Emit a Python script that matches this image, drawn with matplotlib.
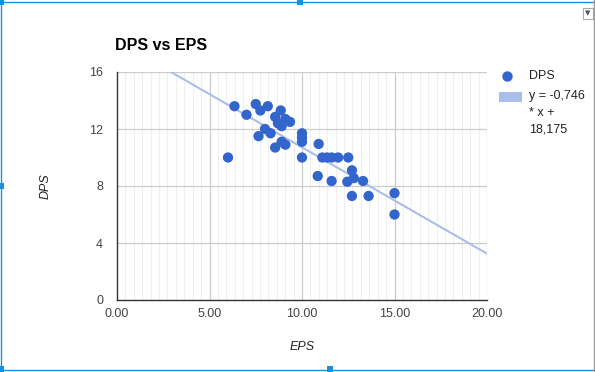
import numpy as np
import matplotlib
matplotlib.use("Agg")
from matplotlib import pyplot as plt
from matplotlib.patches import Rectangle

plt.rcParams['font.family'] = ['Liberation Sans', 'DejaVu Sans']

# values
eps = [6.0, 6.35, 7.0, 7.5, 7.75, 8.15, 8.85, 8.55, 9.1, 9.35,
       8.7, 8.9, 8.0, 8.3, 7.65, 8.55, 8.9, 9.1, 10.0, 10.0,
       10.0, 10.0, 10.9, 11.1, 11.35, 11.6, 11.95, 12.5, 10.85, 11.6,
       12.7, 12.45, 12.8, 13.3, 12.7, 13.6, 15.0, 15.0]
dps = [10.0, 13.6, 13.0, 13.75, 13.3, 13.6, 13.3, 12.85, 12.7, 12.5,
       12.4, 12.2, 12.0, 11.7, 11.5, 10.7, 11.1, 10.9, 11.7, 11.4,
       11.1, 10.0, 10.95, 10.0, 10.0, 10.0, 10.0, 10.0, 8.7, 8.35,
       9.1, 8.3, 8.55, 8.35, 7.3, 7.3, 7.5, 6.0]
slope = -0.746
intercept = 18.175
x_ticks = [0, 5, 10, 15, 20]
y_ticks = [0, 4, 8, 12, 16]

blue = '#3366cc'
trend = '#a9bfe9'
frame = '#1a8fe0'

fig = plt.figure(figsize=(5.95, 3.72), dpi=100)
ax = fig.add_axes([117/595, 1 - 300/372, 370/595, 228/372])

# minor vertical grid (10 lines between majors)
minor = [m for a in x_ticks[:-1] for m in np.linspace(a, a + 5, 12)[1:-1]]
for m in minor:
    ax.axvline(m, color='#efefef', lw=0.8, zorder=0)
for t in x_ticks[1:]:
    ax.axvline(t, color='#cccccc', lw=0.9, zorder=0)
for t in y_ticks[1:]:
    ax.axhline(t, color='#cccccc', lw=0.9, zorder=0)

xs = np.array([0, 20])
ax.plot(xs, slope * xs + intercept, color=trend, lw=1.5, zorder=2)
ax.scatter(eps, dps, s=55, color=blue, edgecolors='none', zorder=3)

ax.set_xlim(0, 20)
ax.set_ylim(0, 16)
ax.set_xticks(x_ticks)
ax.set_xticklabels(['%.2f' % t for t in x_ticks])
ax.set_yticks(y_ticks)
ax.set_yticklabels([str(t) for t in y_ticks])
ax.tick_params(length=0, labelsize=9, labelcolor='#444444', pad=6)
ax.tick_params(axis='y', pad=10)
for side in ['top', 'right']:
    ax.spines[side].set_visible(False)
for side in ['left', 'bottom']:
    ax.spines[side].set_color('#333333')
    ax.spines[side].set_linewidth(1.0)

ax.set_xlabel('EPS', style='italic', fontsize=9, color='#222222', labelpad=15)
ax.set_ylabel('DPS', style='italic', fontsize=9, color='#222222', labelpad=27)

fig.text(115/595, 1 - 45/372, 'DPS vs EPS', fontsize=11.5, fontweight='bold',
         va='center', ha='left')

# legend drawn by hand like the reference
fig.add_artist(plt.Line2D([507/595], [1 - 76/372], marker='o', ms=7.5,
                          color=blue, mec='none', lw=0))
fig.text(529/595, 1 - 76/372, 'DPS', fontsize=9, color='#222222', va='center')
fig.add_artist(Rectangle((499/595, 1 - 102/372), 23/595, 10/372,
                         transform=fig.transFigure, color=trend, lw=0))
fig.text(529/595, 1 - 90/372, 'y = -0,746\n* x +\n18,175', fontsize=9,
         color='#222222', va='top', linespacing=1.5)

# chart frame and handles from the screenshot
fig.add_artist(plt.Line2D([0, 1], [1 - 1.5/372, 1 - 1.5/372], color=frame, lw=1))
fig.add_artist(plt.Line2D([0, 1], [1 - 369.5/372, 1 - 369.5/372], color=frame, lw=1))
fig.add_artist(plt.Line2D([1/595, 1/595], [0, 1], color=frame, lw=1))
fig.add_artist(plt.Line2D([593.5/595, 593.5/595], [0, 1], color='#999999', lw=1))
for hx, hy in [(1, 2), (300, 2), (1, 186), (330, 369), (1, 369)]:
    fig.add_artist(Rectangle(((hx - 3)/595, 1 - (hy + 3)/372), 6/595, 6/372,
                             transform=fig.transFigure, color=frame, lw=0))
# dropdown box top right
fig.add_artist(Rectangle((583/595, 1 - 19/372), 10/595, 11/372,
                         transform=fig.transFigure, facecolor='white',
                         edgecolor='#aaaaaa', lw=0.8))
fig.text(588/595, 1 - 13.5/372, '\u25bc', fontsize=5, color='#555555',
         ha='center', va='center', family='DejaVu Sans')

fig.savefig('out.png', dpi=100)
